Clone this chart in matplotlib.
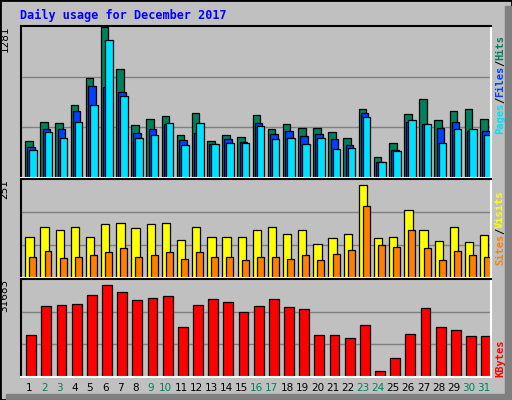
import matplotlib
matplotlib.use("Agg")
import matplotlib.pyplot as plt
from matplotlib.patches import Rectangle

days = list(range(1, 32))
weekend = [2, 3, 9, 10, 16, 17, 23, 24, 30, 31]
hits = [318, 475, 466, 623, 849, 1281, 928, 449, 501, 527, 361, 553, 318, 361, 344, 536,
        418, 462, 427, 427, 392, 340, 584, 174, 296, 540, 671, 488, 566, 584, 497]
files = [261, 418, 418, 566, 784, 775, 732, 383, 418, 462, 322, 383, 287, 331, 305, 470,
         375, 401, 357, 375, 331, 279, 549, 139, 235, 479, 462, 427, 479, 401, 401]
pages = [235, 392, 340, 479, 618, 1167, 697, 340, 366, 470, 279, 470, 287, 296, 296, 444,
         331, 340, 287, 340, 244, 253, 514, 139, 226, 488, 462, 296, 418, 418, 366]
visits = [112, 137, 129, 137, 110, 145, 148, 134, 145, 150, 104, 139, 110, 110, 110, 131,
          139, 118, 131, 91, 107, 118, 251, 107, 112, 183, 131, 99, 139, 96, 115]
sites = [58, 72, 55, 58, 63, 69, 80, 58, 61, 69, 52, 69, 58, 58, 50, 58,
         58, 52, 61, 50, 66, 77, 194, 88, 85, 129, 80, 50, 74, 61, 58]
kbytes = [14334, 24392, 24739, 25085, 28206, 31683, 29247, 26472, 27166, 27860, 17109,
          24739, 26819, 25779, 22311, 24392, 26819, 24045, 23351, 14334, 14334, 13294,
          17802, 2196, 6358, 14681, 23698, 17109, 16068, 13988, 13988]

W, H = 512, 400
BG = "#C0C0C0"
fig = plt.figure(figsize=(W / 100, H / 100), dpi=100, facecolor=BG)
mono = "DejaVu Sans Mono"


def px_axes(x0, y0, x1, y1):
    return fig.add_axes([x0 / W, 1 - y1 / H, (x1 - x0) / W, (y1 - y0) / H])


# outer frame and shadow
fig.patches.append(Rectangle((0, 0), 1, 1, transform=fig.transFigure, fill=False,
                             edgecolor="black", linewidth=2))
fig.patches.append(Rectangle((1 - 7 / W, 0), 6 / W, 1 - 6 / H, transform=fig.transFigure,
                             color="#808080"))
fig.patches.append(Rectangle((6 / W, 1 / H), 1 - 12 / W, 5 / H, transform=fig.transFigure,
                             color="#808080"))

fig.text(20 / W, 1 - 15 / H, "Daily usage for December 2017", color="#0000FF",
         family=mono, fontsize=8.5, fontweight="bold", va="center")


def setup(ax, ymax, label):
    ax.set_facecolor(BG)
    ax.set_xlim(0, 31)
    ax.set_ylim(0, ymax)
    ax.set_xticks([])
    ax.set_yticks([])
    for s in ax.spines.values():
        s.set_color("white")
        s.set_linewidth(1.5)
    ax.spines["left"].set_color("black")
    ax.spines["top"].set_color("black")
    for f in (1 / 3, 2 / 3):
        ax.axhline(ymax * f, color="#808080", linewidth=1, zorder=0)
    ax.text(-0.035, 1.0, label, transform=ax.transAxes, rotation=90, ha="center",
            va="top", fontsize=7.5)


def bars(ax, vals, off, width, color):
    x = [d - 1 + off for d in days]
    ax.bar(x, vals, width=width, align="edge", color=color, edgecolor="black",
           linewidth=0.9, zorder=2)


ax1 = px_axes(21, 26, 491, 178)
top1 = 1281 * 147.5 / 146.5
setup(ax1, top1, "1281")
bars(ax1, hits, 0.27, 0.5, "#00805C")
bars(ax1, files, 0.42, 0.5, "#0040FF")
bars(ax1, pages, 0.55, 0.5, "#00E0FF")

ax2 = px_axes(21, 179, 491, 278)
setup(ax2, 251 * 98.5 / 92.4, "251")
bars(ax2, visits, 0.28, 0.55, "#FFFF00")
bars(ax2, sites, 0.55, 0.46, "#FF8000")

ax3 = px_axes(21, 279, 491, 377)
setup(ax3, 31683 * 97 / 91.3, "31683")
bars(ax3, kbytes, 0.35, 0.65, "#FF0000")
for d in days:
    ax3.text(d - 0.45, -0.06, str(d), transform=ax3.get_xaxis_transform(), ha="center",
             va="top", fontsize=7.5, color="#00805C" if d in weekend else "black")


def side_label(y_bottom, parts):
    y = y_bottom
    for text, color in parts:
        t = fig.text(500 / W, y / H, text, rotation=90, color=color, family=mono,
                     fontsize=7.5, fontweight="bold", ha="center", va="bottom")
        y += len(text) * 6.2


side_label(400 - 134, [("Pages", "#00E0FF"), ("/", "black"), ("Files", "#0040FF"),
                       ("/", "black"), ("Hits", "#00805C")])
side_label(400 - 265, [("Sites", "#FF8000"), ("/", "black"), ("Visits", "#FFFF00")])
side_label(400 - 377, [("KBytes", "#FF0000")])

fig.savefig("out.png", dpi=100, facecolor=BG)
